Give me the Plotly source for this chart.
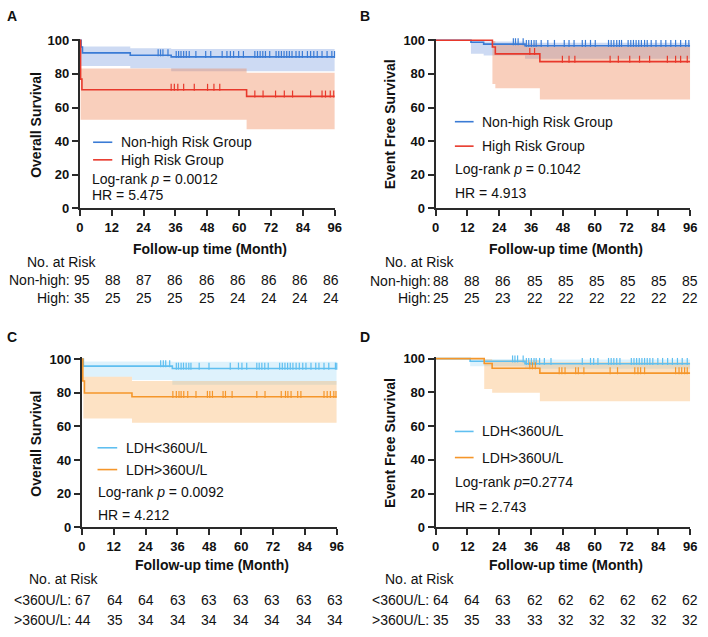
import plotly.graph_objects as go

W, H = 708, 637
FONT = "Liberation Sans, Arial, Helvetica, sans-serif"

# ---------------- data ----------------
x_ticks = [0, 12, 24, 36, 48, 60, 72, 84, 96]
y_ticks = [0, 20, 40, 60, 80, 100]
T_MAX = 96

# Panel A - Overall survival, risk groups
A_nh_t = [0, 0.5, 1.0, 19.0, 34.4]
A_nh_s = [100, 96.0, 92.5, 91.1, 90.1]
A_nh_band_t = [0.5, 19.0, 34.4]
A_nh_band_hi = [96.3, 95.3, 94.8]
A_nh_band_lo = [84.7, 83.3, 81.6]
A_nh_cens = [29.5, 30.4, 31.3, 33.2, 36.3, 37.2, 38.1, 39.1, 40.1, 41.2, 43.7, 47.4, 49.3, 53.6, 55.4,
             56.7, 57.9, 59.8, 61.6, 65.9, 66.9, 67.9, 68.9, 69.9, 71.5, 73.9, 74.9, 75.9, 76.9, 77.9,
             78.9, 79.9, 81.4, 82.6, 83.8, 85.7, 86.9, 88.1, 89.4, 91.2, 93.1, 94.9, 95.9]
A_hi_t = [0, 0.3, 0.8, 62.8]
A_hi_s = [100, 76.9, 70.6, 66.6]
A_hi_band_t = [0.3, 62.8]
A_hi_band_hi = [83.2, 80.6]
A_hi_band_lo = [52.7, 47.1]
A_hi_cens = [34.4, 35.6, 36.9, 39.1, 43.1, 48.1, 50.5, 52.7, 65.9, 69.0, 73.7, 77.0, 80.1, 86.9,
             91.2, 92.5, 94.3, 95.6]
A_risk_nh = [95, 88, 87, 86, 86, 86, 86, 86, 86]
A_risk_hi = [35, 25, 25, 25, 25, 24, 24, 24, 24]

# Panel B - Event free survival, risk groups
B_nh_t = [0, 13.3, 18.1, 33.7]
B_nh_s = [100, 98.8, 97.7, 96.7]
B_nh_band_t = [13.3, 18.1, 33.7]
B_nh_band_hi = [99.7, 99.3, 98.5]
B_nh_band_lo = [92.0, 90.9, 89.0]
B_nh_cens = [29.3, 30.1, 31.1, 33.0, 34.2, 35.1, 36.1, 37.1, 37.9, 39.8, 42.3, 44.8, 48.5, 50.3, 52.2,
             55.3, 56.5, 58.4, 60.2, 65.2, 66.2, 67.2, 68.3, 69.3, 70.1, 72.6, 73.6, 74.6, 75.6, 76.6,
             77.6, 78.8, 79.8, 81.3, 83.1, 85.0, 86.8, 88.7, 90.5, 92.4, 94.3, 95.5]
B_hi_t = [0, 21.4, 22.5, 39.3]
B_hi_s = [100, 96.0, 91.9, 87.3]
B_hi_band_t = [21.4, 22.5, 39.3]
B_hi_band_hi = [99.5, 97.5, 96.2]
B_hi_band_lo = [74.0, 71.5, 64.7]
B_hi_cens = [35.5, 37.3, 47.8, 50.3, 52.5, 65.8, 68.9, 73.2, 76.9, 80.7, 87.4, 90.5, 92.4, 94.9]
B_risk_nh = [88, 88, 86, 85, 85, 85, 85, 85, 85]
B_risk_hi = [25, 25, 23, 22, 22, 22, 22, 22, 22]

# Panel C - Overall survival, LDH
C_lo_t = [0, 0.6, 34.1]
C_lo_s = [100, 95.8, 94.4]
C_lo_band_t = [0.6, 18.9, 34.1]
C_lo_band_hi = [98.6, 98.6, 98.4]
C_lo_band_lo = [89.5, 87.6, 84.7]
C_lo_cens = [29.7, 30.7, 31.6, 33.1, 35.6, 36.4, 37.4, 38.3, 39.3, 40.3, 41.1, 44.2, 47.9, 55.9, 59.0,
             60.3, 62.1, 65.9, 66.8, 67.8, 68.9, 70.2, 74.5, 75.5, 76.5, 77.5, 78.5, 79.5, 80.7, 81.9,
             83.2, 84.4, 86.3, 88.1, 89.3, 91.2, 93.0, 95.5, 96.0]
C_hi_t = [0, 0.4, 1.0, 18.9]
C_hi_s = [100, 87.0, 79.8, 77.6]
C_hi_band_t = [0.6, 18.9]
C_hi_band_hi = [89.5, 87.0]
C_hi_band_lo = [64.7, 62.2]
C_hi_cens = [34.3, 35.6, 36.6, 37.4, 38.4, 39.9, 43.0, 47.3, 48.2, 49.2, 53.2, 54.1, 56.6, 65.9, 69.0,
             75.1, 76.7, 77.6, 78.8, 81.3, 82.5, 91.2, 92.4, 93.6, 94.9, 95.7]
C_risk_lo = [67, 64, 64, 63, 63, 63, 63, 63, 63]
C_risk_hi = [44, 35, 34, 34, 34, 34, 34, 34, 34]

# Panel D - Event free survival, LDH
D_lo_t = [0, 13.0, 33.7]
D_lo_s = [100, 98.4, 96.9]
D_lo_band_t = [13.0, 33.7]
D_lo_band_hi = [99.7, 99.5]
D_lo_band_lo = [95.5, 94.0]
D_lo_cens = [29.0, 29.9, 30.9, 33.0, 34.2, 35.1, 36.1, 37.1, 37.9, 39.2, 41.0, 43.5, 55.3, 58.4, 59.6,
             61.2, 65.2, 66.2, 67.2, 68.3, 69.5, 73.8, 74.8, 75.8, 76.8, 77.8, 78.8, 79.8, 80.8, 81.9,
             83.8, 85.6, 87.5, 89.3, 91.2, 93.0, 94.9]
D_hi_t = [0, 18.3, 21.3, 39.3]
D_hi_s = [100, 97.1, 94.3, 91.4]
D_hi_band_t = [18.3, 21.3, 39.3]
D_hi_band_hi = [99.6, 99.0, 97.8]
D_hi_band_lo = [82.0, 79.7, 74.7]
D_hi_cens = [35.5, 36.5, 37.6, 46.6, 47.6, 48.8, 52.8, 53.8, 55.9, 65.8, 68.6, 75.1, 76.3, 77.3, 78.8,
             90.5, 91.8, 92.8, 93.9, 94.9]
D_risk_lo = [64, 64, 63, 62, 62, 62, 62, 62, 62]
D_risk_hi = [35, 35, 33, 33, 32, 32, 32, 32, 32]

# ---------------- colours ----------------
BLUE = "#3a7bd5"
BLUE_FILL = "rgba(70,120,210,0.27)"
RED = "#e8382b"
RED_FILL = "rgba(240,130,80,0.38)"
SKY = "#5fbff0"
SKY_FILL = "rgba(90,190,240,0.20)"
ORANGE = "#f5962a"
ORANGE_FILL = "rgba(250,160,60,0.30)"
AXIS = "#2a2a2a"

fig = go.Figure()


def px_x(p):
    return p / W


def px_y(p):
    return 1 - p / H


def band(t, hi, lo, xa, ya, fillcolor):
    xs, ys = [], []
    for i, ti in enumerate(t):
        nxt = t[i + 1] if i + 1 < len(t) else T_MAX
        xs += [ti, nxt]
        ys += [hi[i], hi[i]]
    for i in range(len(t) - 1, -1, -1):
        nxt = t[i + 1] if i + 1 < len(t) else T_MAX
        xs += [nxt, t[i]]
        ys += [lo[i], lo[i]]
    fig.add_trace(go.Scatter(x=xs, y=ys, fill="toself", fillcolor=fillcolor, mode="none",
                             xaxis=xa, yaxis=ya, showlegend=False, hoverinfo="skip"))


CENS_LIFT = 1.4  # censor ticks sit just above the curve (in survival units)


def km(t, s, cens, xa, ya, color):
    fig.add_trace(go.Scatter(x=t + [T_MAX], y=s + [s[-1]], mode="lines",
                             line=dict(color=color, width=1.6, shape="hv"),
                             xaxis=xa, yaxis=ya, showlegend=False))
    cy = []
    for c in cens:
        idx = max(i for i, ti in enumerate(t) if ti <= c)
        cy.append(s[idx] + CENS_LIFT)
    fig.add_trace(go.Scatter(x=cens, y=cy, mode="markers", cliponaxis=False,
                             marker=dict(symbol="line-ns", size=5, line=dict(color=color, width=1.2)),
                             xaxis=xa, yaxis=ya, showlegend=False))


# panel geometry (pixels)
panels = {
    "A": dict(xa="x", ya="y", x0=77, x1=336, y0=207, y100=35),
    "B": dict(xa="x2", ya="y2", x0=438.5, x1=697, y0=207, y100=35),
    "C": dict(xa="x3", ya="y3", x0=79, x1=338, y0=533, y100=361),
    "D": dict(xa="x4", ya="y4", x0=438.5, x1=697, y0=533, y100=360.5),
}

band(A_nh_band_t, A_nh_band_hi, A_nh_band_lo, "x", "y", BLUE_FILL)
band(A_hi_band_t, A_hi_band_hi, A_hi_band_lo, "x", "y", RED_FILL)
km(A_nh_t, A_nh_s, A_nh_cens, "x", "y", BLUE)
km(A_hi_t, A_hi_s, A_hi_cens, "x", "y", RED)

band(B_nh_band_t, B_nh_band_hi, B_nh_band_lo, "x2", "y2", BLUE_FILL)
band(B_hi_band_t, B_hi_band_hi, B_hi_band_lo, "x2", "y2", RED_FILL)
km(B_nh_t, B_nh_s, B_nh_cens, "x2", "y2", BLUE)
km(B_hi_t, B_hi_s, B_hi_cens, "x2", "y2", RED)

band(C_lo_band_t, C_lo_band_hi, C_lo_band_lo, "x3", "y3", SKY_FILL)
band(C_hi_band_t, C_hi_band_hi, C_hi_band_lo, "x3", "y3", ORANGE_FILL)
km(C_lo_t, C_lo_s, C_lo_cens, "x3", "y3", SKY)
km(C_hi_t, C_hi_s, C_hi_cens, "x3", "y3", ORANGE)

band(D_lo_band_t, D_lo_band_hi, D_lo_band_lo, "x4", "y4", SKY_FILL)
band(D_hi_band_t, D_hi_band_hi, D_hi_band_lo, "x4", "y4", ORANGE_FILL)
km(D_lo_t, D_lo_s, D_lo_cens, "x4", "y4", SKY)
km(D_hi_t, D_hi_s, D_hi_cens, "x4", "y4", ORANGE)

Y_TOP = 101
layout_axes = {}
for key, p in panels.items():
    xname = "xaxis" if p["xa"] == "x" else "xaxis" + p["xa"][1:]
    yname = "yaxis" if p["ya"] == "y" else "yaxis" + p["ya"][1:]
    unit = (p["y0"] - p["y100"]) / 100.0
    ytop_px = p["y0"] - unit * Y_TOP
    layout_axes[xname] = dict(domain=[px_x(p["x0"]), px_x(p["x1"])], range=[0, T_MAX], anchor=p["ya"],
                              tickvals=x_ticks, ticktext=[str(v) for v in x_ticks], ticks="outside", ticklen=6,
                              tickwidth=1.6, tickcolor=AXIS, showline=True, linecolor=AXIS, linewidth=2,
                              showgrid=False, zeroline=False,
                              tickfont=dict(family=FONT, size=13, color="#111", weight="bold"))
    layout_axes[yname] = dict(domain=[px_y(p["y0"]), px_y(ytop_px)], range=[0, Y_TOP], anchor=p["xa"],
                              tickvals=y_ticks, ticktext=[str(v) for v in y_ticks], ticks="outside", ticklen=6,
                              tickwidth=1.6, tickcolor=AXIS, showline=True, linecolor=AXIS, linewidth=2,
                              showgrid=False, zeroline=False,
                              tickfont=dict(family=FONT, size=13, color="#111", weight="bold"))

annotations = []
shapes = []


def text(x, y, s, size=14, bold=False, anchor="left", angle=0, xref="paper", xshift=0):
    annotations.append(dict(x=x if xref != "paper" else px_x(x), y=px_y(y), xref=xref, yref="paper",
                            text=s, showarrow=False, xanchor=anchor, yanchor="middle", textangle=angle,
                            xshift=xshift, borderpad=0,
                            font=dict(family=FONT, size=size, color="#111", weight="bold" if bold else "normal")))


def legend_line(x0, x1, y, color):
    shapes.append(dict(type="line", xref="paper", yref="paper", x0=px_x(x0), x1=px_x(x1), y0=px_y(y), y1=px_y(y),
                       line=dict(color=color, width=1.6)))


# panel letters
text(2, 10, "A", 14, True)
text(361, 10, "B", 14, True)
text(2, 338, "C", 14, True)
text(361, 338, "D", 14, True)

# y titles
text(33, 121, "Overall Survival", 14, True, "center", -90)
text(392, 121, "Event Free Survival", 14, True, "center", -90)
text(33, 447, "Overall Survival", 14, True, "center", -90)
text(392, 447, "Event Free Survival", 14, True, "center", -90)

# x titles
text(209, 248, "Follow-up time (Month)", 14, True, "center")
text(571, 248, "Follow-up time (Month)", 14, True, "center")
text(211, 572, "Follow-up time (Month)", 14, True, "center")
text(571, 572, "Follow-up time (Month)", 14, True, "center")

# legends & stats
legend_line(90.5, 110, 139.3, BLUE); text(118, 139.3, "Non-high Risk Group")
legend_line(90.5, 110, 157.3, RED); text(118, 157.3, "High Risk Group")
text(88.5, 176.7, "Log-rank <i>p</i> = 0.0012")
text(88.5, 193.5, "HR = 5.475")

legend_line(458, 477, 118.3, BLUE); text(484.5, 118.3, "Non-high Risk Group")
legend_line(458, 477, 143.3, RED); text(484.5, 143.3, "High Risk Group")
text(457, 166.7, "Log-rank <i>p</i> = 0.1042")
text(457, 190.7, "HR = 4.913")

legend_line(95, 115, 451.7, SKY); text(123, 451.7, "LDH&lt;360U/L")
legend_line(95, 115, 474, ORANGE); text(123, 474, "LDH&gt;360U/L")
text(94.5, 497.3, "Log-rank <i>p</i> = 0.0092")
text(94.5, 520.7, "HR = 4.212")

legend_line(458, 477, 435, SKY); text(484.5, 435, "LDH&lt;360U/L")
legend_line(458, 477, 461.7, ORANGE); text(484.5, 461.7, "LDH&gt;360U/L")
text(457, 486.7, "Log-rank <i>p</i>=0.2774")
text(457, 512.3, "HR = 2.743")

# number at risk tables: (axis, header x, label right x, header y, row1 y, row2 y, labels, values,
#                         column shift at first and last column in px)
tables = [
    ("x", 22, 68.5, 262, 280.3, 298.3, "Non-high:", "High:", A_risk_nh, A_risk_hi, 2.5, -4),
    ("x2", 386, 434.5, 262, 280.7, 298.3, "Non-high:", "High:", B_risk_nh, B_risk_hi, 5.5, 0),
    ("x3", 24, 69.5, 586, 607.3, 627.7, "&lt;360U/L:", "&gt;360U/L:", C_risk_lo, C_risk_hi, 1.5, -1.5),
    ("x4", 386, 433, 586, 607.3, 627.7, "&lt;360U/L:", "&gt;360U/L:", D_risk_lo, D_risk_hi, 5.5, 0),
]
for xa, hx, lx, hy, r1, r2, l1, l2, v1, v2, s0, s8 in tables:
    text(hx, hy, "No. at Risk")
    text(lx, r1, l1, anchor="right")
    text(lx, r2, l2, anchor="right")
    n = len(x_ticks)
    for i, (tv, a, b) in enumerate(zip(x_ticks, v1, v2)):
        sh = s0 + (s8 - s0) * i / (n - 1)
        text(tv, r1, str(a), anchor="center", xref=xa, xshift=sh)
        text(tv, r2, str(b), anchor="center", xref=xa, xshift=sh)

fig.update_layout(width=W, height=H, margin=dict(l=0, r=0, t=0, b=0), plot_bgcolor="white",
                  paper_bgcolor="white", showlegend=False, annotations=annotations, shapes=shapes,
                  font=dict(family=FONT, color="#111"), **layout_axes)

fig.write_html("out.html")
